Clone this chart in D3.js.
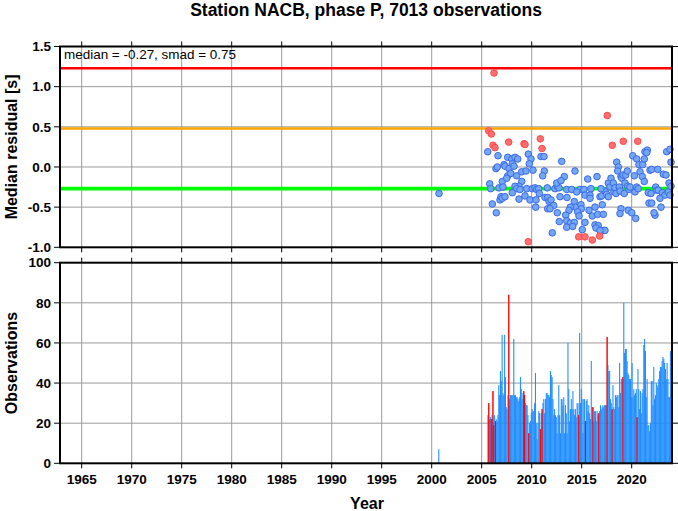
<!DOCTYPE html>
<html><head><meta charset="utf-8">
<script src="https://cdn.jsdelivr.net/npm/d3@7"></script>
<style>
body{margin:0;background:#fff}
svg{display:block}
text{font-family:"Liberation Sans",Arial,Helvetica,sans-serif}
</style>
</head><body>
<svg id="c" width="678" height="511"></svg>
<script>
// ---------------- DATA ----------------
const stationTitle = "Station NACB, phase P, 7013 observations";
const median = -0.27;
const smad = 0.75;
const yearTicks = [1965,1970,1975,1980,1985,1990,1995,2000,2005,2010,2015,2020];
const residualTicks = [-1.0,-0.5,0.0,0.5,1.0,1.5];
const countTicks = [0,20,40,60,80,100];

// monthly median residuals [decimal year, seconds]
const residuals = [
 [2000.73,-0.33],[2005.6,0.19],[2005.8,-0.21],[2005.9,-0.27],[2006.06,-0.46],[2006.43,-0.02],
 [2006.46,-0.57],[2006.56,0.00],[2006.63,0.14],[2006.73,-0.26],[2006.83,-0.41],[2006.93,-0.37],
 [2007.06,-0.18],[2007.06,-0.39],[2007.13,-0.25],[2007.23,0.03],
 [2007.33,0.01],[2007.6,0.12],[2007.73,-0.02],[2008.0,0.10],[2008.33,0.12],[2008.6,0.10],
 [2008.06,0.04],[2008.23,0.01],[2007.6,-0.11],[2007.9,-0.08],[2007.5,-0.14],[2008.5,-0.11],
 [2009.0,-0.18],[2008.73,-0.24],[2008.33,-0.24],[2008.5,-0.27],[2008.83,-0.28],[2009.0,-0.06],
 [2009.43,-0.05],[2010.13,-0.04],[2009.66,0.16],[2009.93,0.10],[2009.76,0.04],[2009.5,-0.27],
 [2010.06,-0.27],[2010.33,-0.26],[2010.5,-0.28],[2010.7,-0.27],[2010.93,0.13],[2011.23,0.13],
 [2011.26,-0.05],[2011.1,-0.11],[2011.56,-0.26],[2012.33,-0.27],[2012.56,-0.24],[2012.73,-0.26],
 [2012.5,-0.20],[2013.0,0.07],[2013.26,-0.12],[2012.93,-0.17],[2013.5,-0.28],[2014.0,-0.28],
 [2014.83,-0.28],[2015.23,-0.28],[2014.33,-0.05],[2014.5,-0.31],
 [2007.33,-0.37],[2008.06,-0.32],[2008.73,-0.40],[2009.33,-0.36],[2009.83,-0.41],[2010.43,-0.41],
 [2010.76,-0.33],[2011.33,-0.38],[2011.6,-0.38],[2011.73,-0.43],[2011.93,-0.41],[2012.2,-0.48],
 [2011.6,-0.52],[2011.83,-0.52],[2012.83,-0.37],[2013.53,-0.38],[2014.26,-0.43],[2014.4,-0.50],
 [2013.86,-0.50],[2013.73,-0.54],[2014.93,-0.47],[2014.96,-0.52],[2014.6,-0.56],[2014.73,-0.61],
 [2010.4,-0.50],[2012.56,-0.57],[2013.4,-0.60],[2013.5,-0.67],[2012.76,-0.68],[2013.86,-0.70],
 [2014.26,-0.69],[2012.06,-0.82],[2015.06,-0.78],[2013.5,-0.75],[2014.1,-0.74],
 [2015.6,-0.15],[2016.53,-0.12],[2015.93,-0.27],[2015.33,-0.35],[2015.83,-0.35],[2015.83,-0.39],
 [2015.33,-0.69],[2015.73,-0.54],[2016.06,-0.61],[2016.33,-0.50],[2016.6,-0.59],[2016.83,-0.37],
 [2017.06,-0.47],[2017.16,-0.59],[2017.23,-0.79],[2017.33,-0.79],[2016.33,-0.72],[2016.66,-0.73],
 [2016.43,-0.76],[2016.83,-0.79],[2017.0,-0.36],[2017.33,-0.30],[2017.5,-0.34],[2017.66,-0.20],
 [2017.83,-0.25],[2017.93,-0.14],[2018.16,-0.20],[2018.23,-0.31],[2018.33,-0.26],[2018.43,-0.33],
 [2018.5,0.06],[2018.66,0.00],[2018.6,-0.05],[2018.93,-0.12],[2019.0,-0.14],[2019.13,-0.10],
 [2019.4,-0.10],[2019.56,-0.05],[2019.33,-0.20],[2019.6,-0.24],[2018.76,-0.25],[2018.83,-0.30],
 [2018.93,-0.52],[2018.83,-0.58],[2019.66,-0.54],[2020.0,-0.57],[2020.4,-0.64],[2019.26,-0.33],
 [2019.73,-0.28],[2019.83,-0.25],[2020.33,-0.31],[2020.5,-0.25],[2020.66,-0.27],[2020.26,-0.11],
 [2020.1,0.14],[2020.5,0.10],[2020.73,0.03],[2020.83,-0.06],[2021.06,-0.12],[2021.26,-0.18],
 [2021.1,0.03],[2021.26,0.10],[2021.33,0.19],[2021.56,0.21],[2021.5,0.18],[2021.66,-0.32],
 [2021.93,-0.33],[2021.73,-0.45],[2022.0,-0.45],[2022.33,-0.60],[2022.23,-0.57],[2021.83,-0.04],
 [2022.0,-0.03],[2022.6,-0.03],[2022.4,-0.25],[2022.5,-0.29],[2022.66,-0.29],[2022.83,-0.39],
 [2022.93,-0.50],[2023.06,-0.32],[2023.33,-0.35],[2023.16,-0.09],[2023.43,-0.10],[2023.5,0.19],
 [2023.83,0.22],[2023.93,0.06],[2023.73,-0.20],[2023.66,-0.31],[2023.93,-0.24],[2023.83,-0.35],
 [2017.66,-0.37],[2016.93,-0.27]
];
// months whose median residual is an outlier
const outlierResiduals = [
 [2005.7,0.45],[2005.96,0.41],[2006.13,0.27],[2006.23,1.17],[2006.33,0.24],[2007.7,0.31],
 [2009.23,0.29],[2009.33,0.28],[2010.86,0.35],[2011.03,0.23],[2009.66,-0.93],[2014.7,-0.87],
 [2015.33,-0.87],[2016.06,-0.91],[2016.8,-0.86],[2017.56,0.64],[2018.06,0.27],[2019.16,0.32],
 [2020.6,0.32]
];

// observations per month (Jan..Dec)
const obsYears = [2000,2005,2006,2007,2008,2009,2010,2011,2012,2013,2014,2015,2016,2017,2018,2019,2020,2021,2022,2023];
const obsCounts = [
 [0,0,0,0,0,0,0,0,7,0,0,0],
 [0,0,0,0,0,0,0,24,30,22,23,22],
 [24,36,19,24,21,22,21,24,39,34,46,41],
 [64,35,34,64,43,28,27,34,84,32,34,34],
 [34,34,62,34,34,33,33,32,31,33,43,37],
 [32,35,36,34,30,29,29,24,15,20,21,25],
 [27,26,26,30,45,20,12,20,26,25,17,25],
 [27,30,32,25,32,35,35,34,34,33,46,44],
 [43,32,24,27,24,23,15,24,39,24,15,32],
 [32,29,33,15,29,25,15,60,37,21,27,32],
 [27,36,27,24,27,23,30,30,24,65,30,37],
 [32,15,32,32,21,31,32,26,29,25,22,51],
 [28,28,21,26,26,21,26,24,25,26,29,27],
 [28,29,28,29,29,29,63,49,46,46,32,30],
 [27,39,28,27,34,33,34,34,28,50,35,42],
 [42,43,80,55,57,57,51,45,44,42,42,33],
 [50,33,37,34,35,37,23,47,37,27,36,25],
 [35,37,59,62,56,33,42,19,19,16,20,41],
 [41,29,48,32,34,40,39,38,42,46,48,48],
 [51,53,52,50,47,42,50,42,33,33,56,50]
];
const outlierMonths = ["2005-09","2005-12","2006-02","2006-03","2006-05","2007-09","2009-03","2009-04",
 "2009-09","2010-11","2011-01","2014-09","2015-05","2016-02","2016-09","2017-07","2018-01","2019-02","2020-07"];

// ---------------- CHART ----------------
const svg = d3.select("#c");
const L = 60, R = 672;
const topT = 46.5, topB = 247.3, botT = 262.7, botB = 463.3;
const x = d3.scaleLinear().domain([1962.83, 2024.03]).range([L, R]);
const yR = d3.scaleLinear().domain([-1, 1.5]).range([topB, topT]);
const yN = d3.scaleLinear().domain([0, 100]).range([botB, botT]);
const fmt = v => (v < 0 ? "-" : "") + Math.abs(v).toFixed(1);
const gridColor = "#9a9a9a";

function panel(y, ticks, t, b) {
  const g = svg.append("g");
  g.selectAll(".vg").data(yearTicks).join("line")
    .attr("x1", d => x(d)).attr("x2", d => x(d)).attr("y1", t).attr("y2", b)
    .attr("stroke", gridColor).attr("stroke-width", 1);
  g.selectAll(".hg").data(ticks.slice(1, -1)).join("line")
    .attr("x1", L).attr("x2", R).attr("y1", d => y(d)).attr("y2", d => y(d))
    .attr("stroke", gridColor).attr("stroke-width", 1);
  return g;
}
function frame(y, ticks, t, b, labelFmt) {
  const g = svg.append("g");
  const tk = 5;
  ticks.forEach(v => {
    g.append("line").attr("x1", L - tk - 1).attr("x2", L).attr("y1", y(v)).attr("y2", y(v)).attr("stroke", "#000");
    g.append("line").attr("x1", R).attr("x2", R + tk + 1).attr("y1", y(v)).attr("y2", y(v)).attr("stroke", "#000");
    g.append("text").attr("x", L - 9).attr("y", y(v) + 4.7).attr("text-anchor", "end")
      .attr("font-size", 13.5).attr("font-weight", "bold").text(labelFmt(v));
  });
  yearTicks.forEach(v => {
    g.append("line").attr("x1", x(v)).attr("x2", x(v)).attr("y1", t - tk).attr("y2", t).attr("stroke", "#000");
    g.append("line").attr("x1", x(v)).attr("x2", x(v)).attr("y1", b).attr("y2", b + tk).attr("stroke", "#000");
  });
  g.append("rect").attr("x", L).attr("y", t).attr("width", R - L).attr("height", b - t)
    .attr("fill", "none").attr("stroke", "#000").attr("stroke-width", 2);
  return g;
}

// ---- top panel ----
panel(yR, residualTicks, topT, topB);
const refLines = [
  {v: median + 2 * smad, c: "#ff0000", w: 2.6},
  {v: median + smad, c: "#ffa500", w: 2.4},
  {v: median, c: "#00ff00", w: 3.6}
];
svg.append("g").selectAll("line").data(refLines).join("line")
  .attr("x1", L).attr("x2", R).attr("y1", d => yR(d.v)).attr("y2", d => yR(d.v))
  .attr("stroke", d => d.c).attr("stroke-width", d => d.w);

svg.append("g").selectAll("circle").data(residuals).join("circle")
  .attr("cx", d => x(d[0])).attr("cy", d => yR(d[1])).attr("r", 3.3)
  .attr("fill", "#74a6f6").attr("stroke", "#3b6ae8").attr("stroke-width", 1);
svg.append("g").selectAll("circle").data(outlierResiduals).join("circle")
  .attr("cx", d => x(d[0])).attr("cy", d => yR(d[1])).attr("r", 3.3)
  .attr("fill", "#ff6e6e").attr("stroke", "#ff4a4a").attr("stroke-width", 1);

frame(yR, residualTicks, topT, topB, fmt);
svg.append("text").attr("x", 64).attr("y", 58.5).attr("font-size", 13)
  .attr("textLength", 172).attr("lengthAdjust", "spacingAndGlyphs")
  .text(`median = ${median.toFixed(2)}, smad = ${smad.toFixed(2)}`);

// ---- bottom panel ----
panel(yN, countTicks, botT, botB);
const bars = [];
obsYears.forEach((yr, i) => obsCounts[i].forEach((c, m) => {
  if (c > 0) bars.push({
    t: yr + m / 12, c,
    red: outlierMonths.includes(`${yr}-${String(m + 1).padStart(2, "0")}`)
  });
}));
const mw = x(1 / 12) - x(0);
const barW = mw * 1.3;
svg.append("g").selectAll("rect").data(bars).join("rect")
  .attr("x", d => x(d.t + 1 / 24) - barW / 2).attr("width", barW)
  .attr("y", d => yN(d.c)).attr("height", d => yN(0) - yN(d.c))
  .attr("fill", d => d.red ? "#ff0000" : "#1e8cff")
  .attr("fill-opacity", 0.97);
svg.append("g").selectAll("rect").data(bars.filter(d => d.red)).join("rect")
  .attr("x", d => x(d.t + 1 / 24) - mw / 2).attr("width", mw)
  .attr("y", d => yN(d.c)).attr("height", d => yN(0) - yN(d.c))
  .attr("fill", "#ff0000");

frame(yN, countTicks, botT, botB, v => String(v));

// x labels
svg.append("g").selectAll("text").data(yearTicks).join("text")
  .attr("x", d => x(d)).attr("y", 484).attr("text-anchor", "middle")
  .attr("font-size", 13.5).attr("font-weight", "bold").text(d => d);

// titles
svg.append("text").attr("x", 366).attr("y", 16).attr("text-anchor", "middle")
  .attr("font-size", 17.5).attr("font-weight", "bold").text(stationTitle);
svg.append("text").attr("x", 367).attr("y", 509).attr("text-anchor", "middle")
  .attr("font-size", 16).attr("font-weight", "bold").text("Year");
svg.append("text").attr("transform", `translate(17,${(topT + topB) / 2}) rotate(-90)`)
  .attr("text-anchor", "middle").attr("font-size", 16).attr("font-weight", "bold").text("Median residual [s]");
svg.append("text").attr("transform", `translate(17,${(botT + botB) / 2}) rotate(-90)`)
  .attr("text-anchor", "middle").attr("font-size", 16).attr("font-weight", "bold").text("Observations");
</script>
</body></html>
